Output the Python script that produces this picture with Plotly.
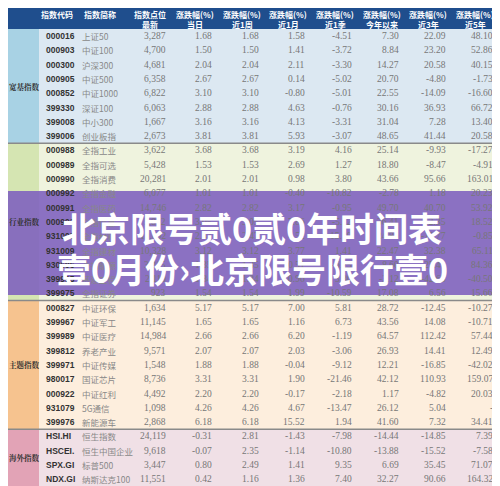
import plotly.graph_objects as go

groups = ["宽基指数", "行业指数", "主题指数", "海外指数"]
group_sizes = [8, 11, 9, 4]
codes = ["000016","000903","000300","000905","000852","399330","399008","399006",
         "000988","000989","000990","000992","000991","000993","931008","931009","930606","399995","399975",
         "000827","399967","399989","399812","399971","980017","000922","931079","399976",
         "HSI.HI","HSCEI.","SPX.GI","NDX.GI"]
names = ["上证50","中证100","沪深300","中证500","中证1000","深证100","中小300","创业板指",
         "全指工业","全指可选","全指消费","全指金融","全指医药","全指信息","全指材料","全指建材","全指能源","基建工程","全指证券",
         "中证环保","中证军工","中证医疗","养老产业","中证传媒","国证芯片","中证红利","5G通信","新能源车",
         "恒生指数","恒生中国企业","标普500","纳斯达克100"]
latest = ["3,287","4,700","4,681","6,358","6,822","6,063","1,667","2,673",
          "3,622","5,428","20,281","6,077","14,746","5,892","10,092","10,328","3,215","2,110","923",
          "1,634","11,145","14,984","9,571","1,548","8,736","4,492","1,098","2,868",
          "24,119","9,618","3,447","11,551"]
day = ["1.68","1.50","2.04","2.67","3.10","2.88","3.16","3.81",
       "3.68","1.53","2.01","1.01","2.82","3.05","2.47","3.12","1.35","1.84","1.54",
       "5.17","1.65","2.66","2.07","1.88","3.31","2.20","4.26","6.18",
       "-0.31","-0.07","0.80","0.42"]
week = ["1.68","1.50","2.04","2.67","3.10","2.88","3.16","3.81",
        "3.68","1.53","2.01","1.01","2.82","3.05","2.47","3.12","1.35","1.84","1.54",
        "5.17","1.65","2.66","2.07","1.88","3.31","2.20","4.26","6.18",
        "2.81","2.35","2.49","1.16"]
month = ["1.58","1.41","2.11","0.14","-0.80","4.63","4.13","5.93",
         "3.19","2.69","0.98","-0.40","3.17","7.86","4.52","3.77","-0.51","0.96","1.99",
         "7.00","1.16","6.20","2.03","-0.04","1.90","-0.17","4.67","15.52",
         "-1.43","-1.14","1.41","1.36"]
quarter = ["-4.51","-3.72","-3.30","-5.02","-5.01","-0.76","-3.31","-3.07",
           "4.16","1.27","3.80","-10.82","-0.95","-5.12","15.30","1.41","-6.25","3.30","-10.59",
           "5.81","6.73","-1.19","-3.06","-9.12","-21.46","-2.18","-13.47","1.94",
           "-7.98","-10.80","9.35","7.40"]
ytd = ["7.30","8.84","14.27","20.70","22.55","30.16","31.04","48.65",
       "25.14","18.80","43.66","-2.78","49.70","36.41","24.86","22.47","-8.60","-3.12","17.08",
       "28.72","43.56","64.57","26.93","12.21","42.12","1.17","26.12","41.60",
       "-14.44","-13.88","6.69","32.27"]
y3 = ["22.09","23.20","20.58","-4.80","-14.09","36.93","7.28","41.44",
      "-9.93","-8.47","95.66","1.18","40.70","12.35","-10.77","32.38","-25.41","-42.63","6.56",
      "-12.45","14.08","112.42","14.41","-16.85","110.93","-4.82","5.04","7.32",
      "-14.85","-15.52","35.45","90.66"]
y5 = ["48.10","52.86","40.15","-1.73","-16.60","66.72","13.40","20.58",
      "-17.27","-4.91","163.01","20.23","53.92","18.52","-0.85","65.11","84.36","-40.50","15.66",
      "-10.27","-10.71","57.44","12.49","-42.02","159.07","20.03","-","34.41",
      "7.39","-7.58","71.07","164.32"]
header1 = ["指数代码","指数简称","指数点位","涨跌幅(%)","涨跌幅(%)","涨跌幅(%)","涨跌幅(%)","涨跌幅(%)","涨跌幅(%)","涨跌幅(%)"]
header2 = ["","","最新","当日","近1周","近1月","近1季","今年以来","近3年","近5年"]
title_lines = ["北京限号贰0贰0年时间表", "壹0月份›北京限号限行壹0"]

OFF = 8  # page body margin
row0, rh, hdr = 36.0, 14.3, 29
rows = [row0 + i * rh for i in range(len(codes))]
band_bg = ["#dce8f2", "#eff3de", "#fdeedd", "#f0e0e6"]
label_bg = ["#a8d2e4", "#d5e5b2", "#f6c38f", "#e2a3b6"]

fig = go.Figure()
shapes = [dict(type="rect", x0=0, x1=500, y0=0, y1=hdr, fillcolor="#1f4e8d", line_width=0, layer="below")]
start = 0
label_pos = []
for g, n in enumerate(group_sizes):
    y0 = hdr if g == 0 else rows[start] - rh / 2
    y1 = rows[start + n - 1] + rh / 2 if g < 3 else 486
    shapes.append(dict(type="rect", x0=0, x1=500, y0=y0, y1=y1, fillcolor=band_bg[g], line_width=0, layer="below"))
    shapes.append(dict(type="rect", x0=0, x1=39, y0=y0, y1=y1, fillcolor=label_bg[g], line_width=0, layer="below"))
    if g > 0:
        shapes.append(dict(type="line", x0=0, x1=500, y0=y0, y1=y0, line=dict(color="#8a8a8a", width=1.5)))
    label_pos.append((y0 + y1) / 2)
    start += n
shapes.append(dict(type="rect", x0=0, x1=500, y0=191, y1=295, fillcolor="rgba(125,95,190,0.88)", line_width=0, layer="above"))

ann = []
def add(x, y, t, anchor, fam, size, color):
    ann.append(dict(x=x, y=y, text=t, xanchor=anchor, yanchor="middle", showarrow=False,
                    xref="x", yref="y", font=dict(family=fam, size=size, color=color)))

for yv, g in zip(label_pos, groups):
    add(24, yv, f"<b>{g}</b>", "center", "Noto Serif CJK SC, Noto Sans CJK SC", 7.5, "#333")
for yv, c, n in zip(rows, codes, names):
    add(44, yv, f"<b>{c}</b>", "left", "Liberation Sans", 8.5, "#333")
    add(80, yv, n, "left", "Noto Sans CJK SC", 8.5, "#888")
xr = [168, 214, 261, 307, 354, 401, 448, 495]
for xv, col in zip(xr, [latest, day, week, month, quarter, ytd, y3, y5]):
    for yv, v in zip(rows, col):
        add(xv, yv, v, "right", "Liberation Serif", 9.5, "#777")
hx = [57, 100, 150, 195, 242, 288, 335, 382, 428, 475]
for xv, a, b in zip(hx, header1, header2):
    add(xv, 14, f"<b>{a}</b>", "center", "Noto Sans CJK SC", 8, "white")
    if b:
        add(xv, 24.5, f"<b>{b}</b>", "center", "Noto Sans CJK SC", 8, "white")

fig.add_trace(go.Scatter(x=[OFF, 500], y=[OFF, 486], mode="markers", marker=dict(opacity=0), hoverinfo="skip"))
for i, t in enumerate(title_lines):
    ann.append(dict(x=252, y=227 + i * 41, text=f"<b>{t}</b>", showarrow=False, xref="x", yref="y",
                    font=dict(family="Noto Sans CJK SC", size=34, color="white")))

fig.update_layout(width=500 - OFF, height=486 - OFF, margin=dict(l=0, r=0, t=0, b=0), showlegend=False,
                  plot_bgcolor="white", paper_bgcolor="white", shapes=shapes, annotations=ann,
                  xaxis=dict(range=[OFF, 500], visible=False, fixedrange=True),
                  yaxis=dict(range=[486, OFF], visible=False, fixedrange=True))
fig.write_html("out.html")
